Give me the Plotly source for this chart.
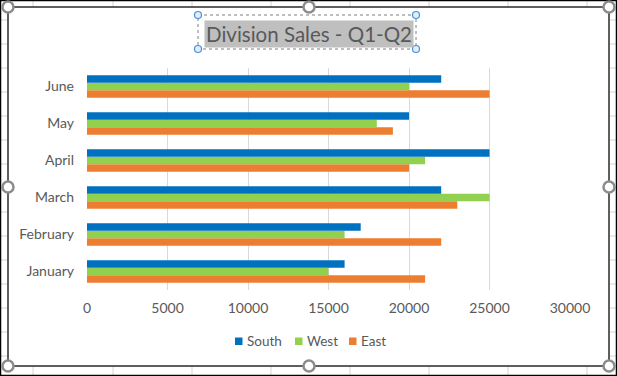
import plotly.graph_objects as go

months = ["January", "February", "March", "April", "May", "June"]
south = [16000, 17000, 22000, 25000, 20000, 22000]
west = [15000, 16000, 25000, 21000, 18000, 20000]
east = [21000, 22000, 23000, 20000, 19000, 25000]
x_ticks = [0, 5000, 10000, 15000, 20000, 25000, 30000]
x_tick_labels = ["0", "5000", "10000", "15000", "20000", "25000", "30000"]
title_text = "Division Sales - Q1-Q2"
series_names = ["South", "West", "East"]
series_colors = ["#0070C0", "#92D050", "#ED7D31"]

W, H = 617, 376
L, R, T, B = 87, 570, 68, 290  # plot area in pixels


def px(x):
    return (x - L) / (R - L)


def py(y):
    return (B - y) / (B - T)


FONT = "Lato, Carlito, Calibri, sans-serif"
GRAY = "#595959"

fig = go.Figure()
series = {"South": south, "West": west, "East": east}
color_of = dict(zip(series_names, series_colors))
# add bottom-to-top within each group so South sits on top
for name in reversed(series_names):
    fig.add_trace(go.Bar(y=months, x=series[name], name=name, orientation="h",
                         marker=dict(color=color_of[name], line=dict(width=0)),
                         showlegend=False))

shapes = []
annotations = []
# spreadsheet gridlines peeking outside the chart
for gx in [33, 113, 192, 271, 350, 429, 508, 587]:
    for y0, y1 in [(1, 7), (366, 375)]:
        shapes.append(dict(type="line", xref="paper", yref="paper", x0=px(gx), x1=px(gx),
                           y0=py(y0), y1=py(y1), line=dict(color="#d4d4d4", width=1)))
for k in range(15):
    gy = 20 + 24 * k
    for x0, x1 in [(1, 8), (609, 616)]:
        shapes.append(dict(type="line", xref="paper", yref="paper", x0=px(x0), x1=px(x1),
                           y0=py(gy), y1=py(gy), line=dict(color="#d4d4d4", width=1)))
# outer frame and chart border
shapes.append(dict(type="rect", xref="paper", yref="paper", x0=px(0.5), x1=px(616.5),
                   y0=py(0.5), y1=py(375.5), line=dict(color="black", width=1.5)))
shapes.append(dict(type="rect", xref="paper", yref="paper", x0=px(8), x1=px(609),
                   y0=py(7), y1=py(366), line=dict(color="#2b2b2b", width=1.5)))
# chart selection handles
for hx, hy in [(8, 7), (309, 7), (609, 7), (8, 187), (609, 187), (8, 366), (309, 366), (609, 366)]:
    shapes.append(dict(type="circle", xref="paper", yref="paper", x0=px(hx - 5.5), x1=px(hx + 5.5),
                       y0=py(hy - 5.5), y1=py(hy + 5.5), fillcolor="white",
                       line=dict(color="#8c8c8c", width=2.5)))
# title selection box
shapes.append(dict(type="rect", xref="paper", yref="paper", x0=px(198), x1=px(416),
                   y0=py(15), y1=py(49), line=dict(color="#7f7f7f", width=1, dash="dot")))
for hx, hy in [(198, 15), (416, 15), (198, 49), (416, 49)]:
    shapes.append(dict(type="circle", xref="paper", yref="paper", x0=px(hx - 3.5), x1=px(hx + 3.5),
                       y0=py(hy - 3.5), y1=py(hy + 3.5), fillcolor="#ddeeff",
                       line=dict(color="#4a90d9", width=1.2)))

# legend (Excel style: small square + text)
legend_x = [235, 295, 349]
for name, lx in zip(series_names, legend_x):
    shapes.append(dict(type="rect", xref="paper", yref="paper", x0=px(lx), x1=px(lx + 7.5),
                       y0=py(337.5), y1=py(345), fillcolor=color_of[name], line=dict(width=0)))
    annotations.append(dict(text=name, xref="paper", yref="paper", x=px(lx + 10), y=py(341),
                            xanchor="left", yanchor="middle", showarrow=False,
                            font=dict(family=FONT, size=13.5, color=GRAY)))

annotations.append(dict(text=title_text, xref="paper", yref="paper", x=px(308.5), y=py(34),
                        xanchor="center", yanchor="middle", showarrow=False,
                        font=dict(family=FONT, size=20.5, color=GRAY),
                        bgcolor="#bfbfbf", borderpad=1))

fig.update_layout(
    width=W, height=H,
    margin=dict(l=L, r=W - R, t=T, b=H - B),
    paper_bgcolor="white", plot_bgcolor="white",
    barmode="group", bargap=0.386, bargroupgap=0,
    font=dict(family=FONT, size=14, color=GRAY),
    showlegend=False,
    xaxis=dict(range=[0, 30000], tickvals=x_ticks, ticktext=x_tick_labels, showgrid=True,
               gridcolor="#d9d9d9", gridwidth=1, zeroline=False, showline=False, ticks="",
               tickfont=dict(size=14, color=GRAY), ticklabelstandoff=8),
    yaxis=dict(showgrid=False, zeroline=False, showline=False, ticks="",
               tickfont=dict(size=14, color=GRAY), ticklabelstandoff=12),
    shapes=shapes,
    annotations=annotations,
)

fig.write_html("out.html", config={"displayModeBar": False},
               post_script="document.body.style.margin='0';")
